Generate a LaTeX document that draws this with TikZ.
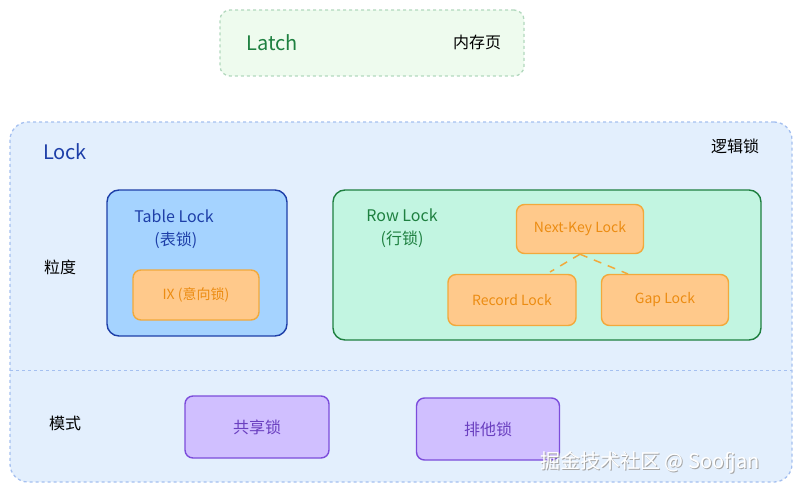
\documentclass[tikz,border=0pt]{standalone}
\usepackage{fontspec}
\setmainfont{Noto Sans CJK SC}
\begin{document}
\begin{tikzpicture}[x=1pt,y=-1pt,
  box/.style={draw,rounded corners=12pt,line width=1.4pt},
  inner/.style={box,draw=ord,fill=orf,rounded corners=8pt,text=ort,font=\fontsize{14}{16}\selectfont},
  mode/.style={box,draw=vid,fill=vif,rounded corners=8pt,text=vit,font=\fontsize{16}{18}\selectfont},
  lbl/.style={font=\fontsize{16}{23}\selectfont}]
\useasboundingbox (0,0) rectangle (802,492);
\definecolor{latchf}{HTML}{EEFBEE}\definecolor{latchd}{HTML}{B2D8BE}
\definecolor{lockf}{HTML}{E3EFFD}\definecolor{lockd}{HTML}{A5C0F0}
\definecolor{ord}{HTML}{F2A93B}\definecolor{orf}{HTML}{FFC98B}\definecolor{ort}{HTML}{EC8C12}
\definecolor{vid}{HTML}{7C4DDB}\definecolor{vif}{HTML}{D0BFFF}\definecolor{vit}{HTML}{6A3FC0}
\definecolor{tbd}{HTML}{1E3FA8}\definecolor{tbf}{HTML}{A5D3FF}
\definecolor{rwd}{HTML}{1E8040}\definecolor{rwf}{HTML}{C2F5E1}
\node[draw=latchd,fill=latchf,dashed,line width=1.3pt,rounded corners=10pt,minimum width=304pt,minimum height=66pt] (latch) at (372,43) {};
\node[text=rwd,font=\fontsize{20}{22}\selectfont] (latcht) at (272,43) {Latch};
\node[lbl] (mem) at (477,42) {内存页};
\node[draw=lockd,fill=lockf,dashed,line width=1.3pt,rounded corners=18pt,minimum width=782pt,minimum height=360pt] (lock) at (401,302) {};
\node[text=tbd,font=\fontsize{20}{22}\selectfont] (lockt) at (65,152) {Lock};
\node[lbl] (logic) at (735,146) {逻辑锁};
\coordinate (dl) at (10,370); \coordinate (dr) at (792,370);
\draw[lockd,dashed,line width=1pt] (dl) -- (dr);
\node[lbl] (gran) at (60,267) {粒度};
\node[lbl] (mode) at (65,423) {模式};
\node[box,draw=tbd,fill=tbf,minimum width=180pt,minimum height=146pt] (tbl) at (197,263) {};
\node[text=tbd,lbl,align=center] (tblt) at (174,229) {Table Lock\\\ (表锁)};
\node[inner,minimum width=126pt,minimum height=50pt] (ix) at (196,295) {IX (意向锁)};
\node[box,draw=rwd,fill=rwf,minimum width=428pt,minimum height=150pt] (row) at (547,265) {};
\node[text=rwd,lbl,align=center] (rowt) at (402,228) {Row Lock\\(行锁)};
\node[inner,minimum width=127pt,minimum height=49pt] (nk) at (580,229) {Next-Key Lock};
\node[inner,minimum width=128pt,minimum height=51pt] (rec) at (512,300) {Record Lock};
\node[inner,minimum width=127pt,minimum height=51pt] (gap) at (665,300) {Gap Lock};
\coordinate (r1) at (550,272); \coordinate (g1) at (628,274);
\draw[ord,line width=1.5pt,dash pattern=on 8pt off 7pt] (nk.south) -- (r1);
\draw[ord,line width=1.5pt,dash pattern=on 8pt off 7pt] (nk.south) -- (g1);
\node[mode,minimum width=144pt,minimum height=62pt] (sh) at (257,427) {共享锁};
\node[mode,minimum width=143pt,minimum height=62pt] (ex) at (488,429) {排他锁};
\node[text=gray!70,font=\fontsize{20}{22}\selectfont] (wm2) at (651,463) {掘金技术社区 @ Soofjan};
\node[text=white,font=\fontsize{20}{22}\selectfont] (wm) at (650,462) {掘金技术社区 @ Soofjan};
\end{tikzpicture}
\end{document}
